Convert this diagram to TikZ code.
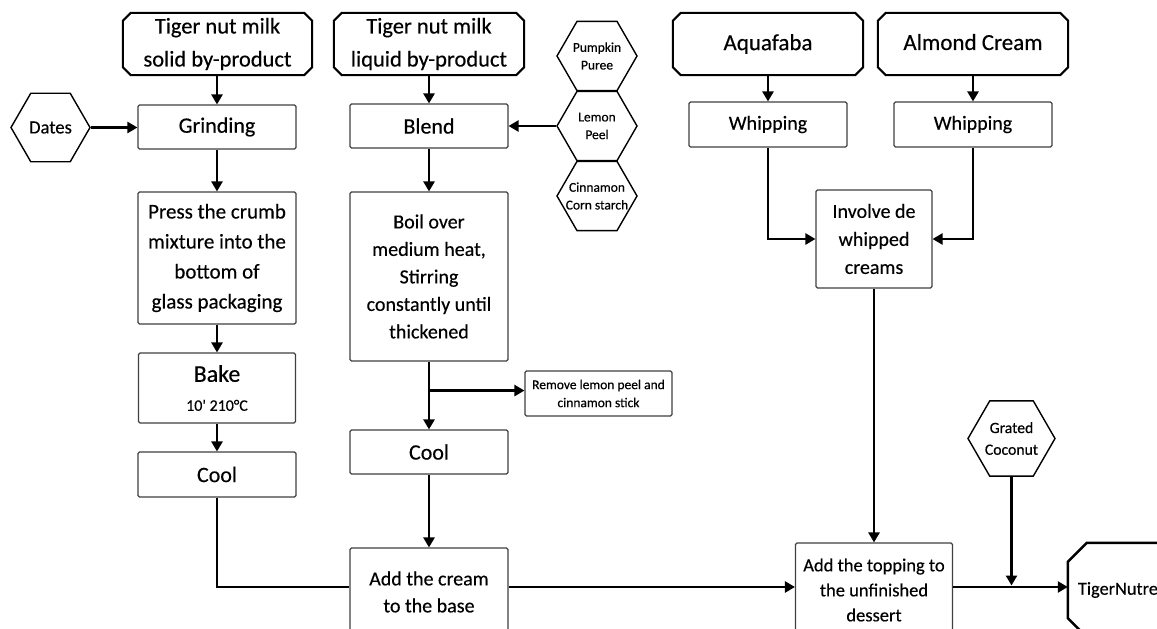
\documentclass[tikz,border=0pt]{standalone}
\usepackage{fontspec}
\setmainfont{Carlito}[FakeBold=0.35]
\usetikzlibrary{shapes.geometric,arrows.meta}
\newcommand\chamferbox[3]{%
  \draw[#3] ([xshift=#2]#1.north west) -- ([xshift=-#2]#1.north east) -- ([yshift=-#2]#1.north east)
    -- ([yshift=#2]#1.south east) -- ([xshift=-#2]#1.south east) -- ([xshift=#2]#1.south west)
    -- ([yshift=#2]#1.south west) -- ([yshift=-#2]#1.north west) -- cycle;}
\tikzset{
  stepbox/.style={draw=black!75, line width=1.1pt, rounded corners=1.5pt, fill=white, align=center, inner sep=0pt, minimum width=158pt},
  srcbox/.style={draw=none, inner sep=0pt, align=center, minimum width=190pt, minimum height=62pt},
  srcline/.style={line width=2pt, black, line join=miter},
  hexa/.style={draw, regular polygon, regular polygon sides=6, minimum size=#1, inner sep=0pt, line width=1.4pt},
  txt/.style={align=center, inner sep=0pt},
  flow/.style={line width=2.4pt, -{Triangle[length=10pt,width=11pt]}},
  plain/.style={line width=2.4pt},
}
\begin{document}
\begin{tikzpicture}[x=1pt,y=-1pt]
\useasboundingbox (0,0) rectangle (1157,629);
\clip (0,0) rectangle (1157,629);
\coordinate (ml) at (0,587);
% sources
\node[srcbox, minimum width=189pt, font=\fontsize{22.5}{33}\selectfont] (src1) at (217.5,44) {Tiger nut milk\\solid by-product};
\node[srcbox, font=\fontsize{22.5}{33}\selectfont] (src2) at (429,44) {Tiger nut milk\\liquid by-product};
\node[srcbox, font=\fontsize{23}{28}\selectfont] (aqua) at (768,44) {Aquafaba};
\node[srcbox, font=\fontsize{23}{28}\selectfont] (almond) at (973,44) {\raisebox{4pt}{Almond Cream}};
\chamferbox{src1}{8pt}{srcline}
\chamferbox{src2}{8pt}{srcline}
\chamferbox{aqua}{8pt}{srcline}
\chamferbox{almond}{8pt}{srcline}
% hexagons
\node[hexa=79pt] (dates) at (50.5,127.5) {};
\node[txt, font=\fontsize{18.6}{22}\selectfont] (datesT) at (dates) {Dates};
\node[hexa=80pt] (pump) at (597,56) {};
\node[txt, font=\fontsize{13.5}{17.7}\selectfont] (pumpT) at (pump) {Pumpkin\\Puree};
\node[hexa=80pt] (lemon) at (597,126) {};
\node[txt, font=\fontsize{13.5}{17.7}\selectfont] (lemonT) at (lemon) {Lemon\\Peel};
\node[hexa=80pt] (cinna) at (597,196) {};
\node[txt, font=\fontsize{13.5}{17.7}\selectfont] (cinnaT) at (cinna) {Cinnamon\\Corn starch};
\node[hexa=87pt] (coco) at (1011.5,438.5) {};
\node[txt, font=\fontsize{15.7}{21.7}\selectfont] (cocoT) at (coco) {Grated\\Coconut};
% left column
\node[stepbox, minimum height=44pt, font=\fontsize{22}{26}\selectfont] (grind) at (217,127) {Grinding};
\node[stepbox, minimum height=132pt, font=\fontsize{21}{30}\selectfont] (press) at (217,258) {Press the crumb\\mixture into the\\bottom of\\glass packaging};
\node[stepbox, minimum height=70pt, minimum width=157pt, font=\fontsize{16}{20}\selectfont] (bake) at (217,388) {{\fontsize{24}{24}\selectfont Bake}\\[9pt]10\textquotesingle{} 210°C};
\node[stepbox, minimum height=45pt, font=\fontsize{22}{26}\selectfont] (cool1) at (217,474.5) {Cool};
% middle column
\node[stepbox, minimum height=44pt, font=\fontsize{22}{26}\selectfont] (blend) at (429,126) {Blend};
\node[stepbox, minimum height=169pt, font=\fontsize{20}{27.5}\selectfont] (boil) at (429,276.5) {Boil over\\medium heat,\\Stirring\\constantly until\\thickened};
\node[stepbox, minimum height=44pt, font=\fontsize{22}{26}\selectfont] (cool2) at (429,452) {Cool};
\node[stepbox, minimum height=88pt, font=\fontsize{20}{27}\selectfont] (cream) at (429,592) {Add the cream\\to the base};
\node[stepbox, minimum width=147pt, minimum height=45pt, font=\fontsize{13.5}{18}\selectfont] (remove) at (598.5,393.5) {Remove lemon peel and\\cinnamon stick};
% right part
\node[stepbox, minimum height=45pt, font=\fontsize{20}{24}\selectfont] (whip1) at (768,124.5) {Whipping};
\node[stepbox, minimum height=45pt, font=\fontsize{20}{24}\selectfont] (whip2) at (973,124.5) {Whipping};
\node[stepbox, minimum width=116pt, minimum height=98pt, font=\fontsize{20}{28}\selectfont] (involve) at (874,239) {Involve de\\whipped\\creams};
\node[stepbox, minimum width=157pt, minimum height=94pt, font=\fontsize{18.5}{25}\selectfont] (topping) at (874,590) {Add the topping to\\the unfinished\\dessert};
\node[draw=none, inner sep=0pt, minimum width=130pt, minimum height=94pt, text width=110pt, align=left, font=\fontsize{18.3}{22}\selectfont] (tiger) at (1133,590) {TigerNutre};
\chamferbox{tiger}{19pt}{line width=2.5pt}
% connectors
\draw[flow] (grind.north |- src1.south) -- (grind.north);
\draw[flow] (dates.east) -- (dates.east -| grind.west);
\draw[flow] (grind) -- (press);
\draw[flow] (press) -- (bake);
\draw[flow] (bake) -- (cool1);
\draw[plain] (cool1.south) |- (cream.west |- ml);
\draw[flow] (src2) -- (blend);
\draw[flow] (lemon.west) -- (lemon.west -| blend.east);
\draw[flow] (blend) -- (boil);
\draw[flow] (boil) -- (cool2);
\path (boil.south) ++(0,29) coordinate (br);
\draw[flow] (br) -- (br -| remove.west);
\draw[flow] (cool2) -- (cream);
\draw[flow] (cream.east |- ml) -- (topping.west |- ml);
\draw[flow] (topping.east |- ml) -- (tiger.west |- ml);
\draw[flow, shorten >=1.5pt] (coco.south) -- (coco.south |- ml);
\draw[flow] (aqua) -- (whip1);
\draw[flow] (almond) -- (whip2);
\draw[flow] (whip1.south) |- (involve.west);
\draw[flow] (whip2.south) |- (involve.east);
\draw[flow] (involve) -- (topping);
\end{tikzpicture}
\end{document}
